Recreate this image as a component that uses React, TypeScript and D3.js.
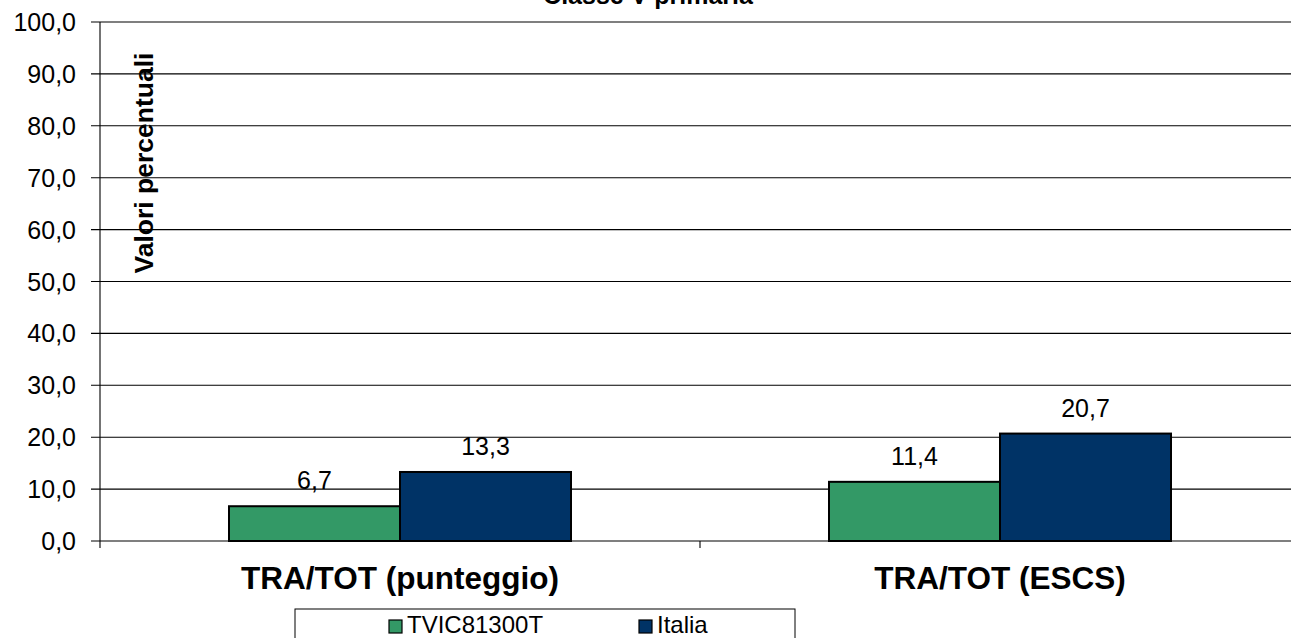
import React from "react";
import * as d3 from "d3";

const categories = ["TRA/TOT (punteggio)", "TRA/TOT (ESCS)"];
const seriesNames = ["TVIC81300T", "Italia"];
const seriesColors = ["#339966", "#003366"];
const valuesTVIC = [6.7, 11.4];
const valuesItalia = [13.3, 20.7];
const yTicks = [0, 10, 20, 30, 40, 50, 60, 70, 80, 90, 100];
const title = "Classe V primaria";
const yTitle = "Valori percentuali";

const fmt = (v: number) => v.toFixed(1).replace(".", ",");

export default function App() {
  const W = 1291, H = 638;
  const x0 = 100, x1 = 1300;
  const yTop = 22, yBot = 541;
  const y = d3.scaleLinear().domain([0, 100]).range([yBot, yTop]);
  const xb = d3.scaleBand().domain(categories).range([x0, x1]).paddingInner(0).paddingOuter(0);
  const series = [valuesTVIC, valuesItalia];
  const barW = 171;
  const font = "'Liberation Sans', Arial, sans-serif";
  const legendX = d3.scaleLinear().domain([0, 1]).range([389, 639]);

  return (
    <svg width={W} height={H} style={{ position: "absolute", left: 0, top: 0, background: "#fff" }}>
      <rect x={0} y={0} width={W} height={H} fill="#fff" />
      <text x={648} y={4} textAnchor="middle" fontFamily={font} fontWeight="bold" fontSize={25}>{title}</text>
      {yTicks.map((t) => (
        <g key={t}>
          <line x1={91} x2={W} y1={y(t)} y2={y(t)} stroke="#000" strokeWidth={1.1} />
          <text x={76} y={y(t) + 9} textAnchor="end" fontFamily={font} fontSize={25} fill="#000">{fmt(t)}</text>
        </g>
      ))}
      <line x1={x0} x2={x0} y1={yTop} y2={yBot + 7} stroke="#000" strokeWidth={1.1} />
      <line x1={xb(categories[1])!} x2={xb(categories[1])!} y1={yBot} y2={yBot + 7} stroke="#000" strokeWidth={1.1} />
      <text transform={`translate(153,163) rotate(-90)`} textAnchor="middle" fontFamily={font} fontWeight="bold" fontSize={26.5}>{yTitle}</text>
      {categories.map((c, i) => {
        const cx = xb(c)! + xb.bandwidth() / 2;
        return (
          <g key={c}>
            {series.map((s, j) => {
              const bx = cx - barW + j * barW;
              return (
                <g key={j}>
                  <rect x={bx} y={y(s[i])} width={barW} height={yBot - y(s[i])} fill={seriesColors[j]} stroke="#000" strokeWidth={2} />
                  <text x={bx + barW / 2} y={y(s[i]) - 17} textAnchor="middle" fontFamily={font} fontSize={25} fill="#000">{fmt(s[i])}</text>
                </g>
              );
            })}
            <text x={cx} y={589} textAnchor="middle" fontFamily={font} fontWeight="bold" fontSize={31.5}>{c}</text>
          </g>
        );
      })}
      <rect x={295} y={609} width={500} height={40} fill="#fff" stroke="#000" strokeWidth={1} />
      {seriesNames.map((n, j) => {
        const lx = legendX(j);
        return (
          <g key={n}>
            <rect x={lx} y={620} width={13} height={13} fill={seriesColors[j]} stroke="#000" strokeWidth={1.2} />
            <text x={lx + 18} y={633} fontFamily={font} fontSize={24}>{n}</text>
          </g>
        );
      })}
    </svg>
  );
}
